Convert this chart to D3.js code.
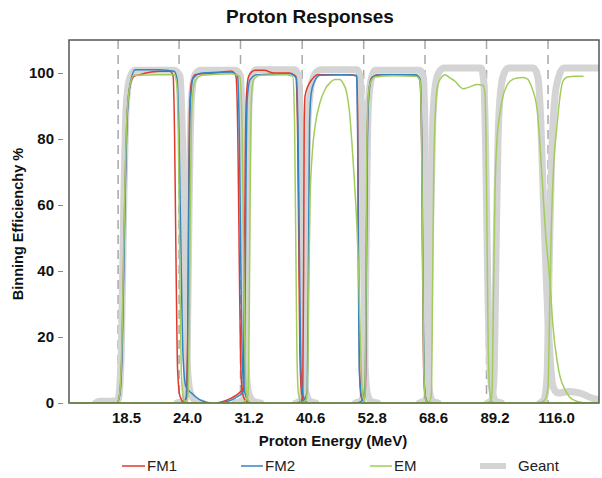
<!DOCTYPE html>
<html>
<head>
<meta charset="utf-8">
<script src="https://cdn.jsdelivr.net/npm/d3@7"></script>
<style>
  html, body { margin: 0; padding: 0; background: #fff; }
  svg { display: block; font-family: "Liberation Sans", Arial, sans-serif; }
</style>
</head>
<body>
<svg id="chart" width="602" height="478"></svg>
<script>
// ---------- DATA (energy in MeV, efficiency in %) ----------
const tickEnergies = [18.5, 24.0, 31.2, 40.6, 52.8, 68.6, 89.2, 116.0];
const tickLabels = ["18.5", "24.0", "31.2", "40.6", "52.8", "68.6", "89.2", "116.0"];
const yTicks = [0, 20, 40, 60, 80, 100];
const seriesNames = ["FM1", "FM2", "EM", "Geant"];

const fm1Bins = [
  [[17.0,0],[18.4,0],[18.6,2],[18.8,15],[19.0,55],[19.2,85],[19.45,96],[19.8,99],[20.3,99.5],[22.1,100.5],[23.1,100.5],[23.4,99],[23.55,80],[23.7,40],[23.85,10],[24.1,2],[24.6,0],[26.2,0]],
  [[24.1,0],[24.7,1],[24.9,20],[25.0,60],[25.1,88],[25.3,97],[25.7,99.5],[28.0,100],[30.0,100.5],[30.6,99],[30.85,80],[31.05,40],[31.2,15],[31.4,4],[31.8,1],[32.5,0]],
  [[28.2,0],[30.0,1.5],[31.0,3],[31.55,4.5],[31.7,30],[31.85,75],[32.0,93],[32.3,99],[33.2,100.8],[34.5,100.8],[36.0,100],[38.5,100],[39.5,99],[39.8,85],[40.0,50],[40.2,15],[40.5,3],[41.0,0]],
  [[39.5,0],[40.4,0.5],[40.7,3],[40.85,40],[40.95,85],[41.1,93],[41.6,96],[42.3,98],[43.4,99.5],[46.0,99.5],[50.0,99.5],[51.3,99],[51.5,80],[51.7,40],[51.9,10],[52.2,2],[53.0,0]],
  [[51.5,0],[52.8,0.5],[53.2,5],[53.4,40],[53.6,80],[54.0,95],[54.6,98.5],[56.0,99.5],[60.0,99.5],[66.0,99.3],[67.1,98],[67.6,80],[67.9,40],[68.2,10],[68.7,2],[69.5,0]]
];

const fm2Bins = [
  [[17.0,0],[18.4,0],[18.65,3],[18.85,20],[19.05,60],[19.25,88],[19.5,97],[19.9,101],[22.0,101],[23.5,100.5],[23.8,98],[24.0,80],[24.2,45],[24.4,15],[24.7,5],[25.3,3],[26.2,1],[27.4,0]],
  [[24.3,0],[24.8,2],[24.95,30],[25.05,70],[25.2,92],[25.5,98.5],[26.5,100],[30.0,100.3],[30.8,99],[31.05,80],[31.25,40],[31.45,12],[31.8,3],[32.5,0]],
  [[28.5,0],[30.5,1.5],[31.6,3.5],[31.8,25],[31.95,70],[32.1,92],[32.5,98],[33.5,99.5],[38.5,99.8],[39.6,98.5],[39.9,80],[40.15,40],[40.4,10],[40.8,2],[41.5,0]],
  [[40.0,0],[41.0,1],[41.5,4],[41.7,40],[41.9,85],[42.2,94],[42.8,97.5],[43.8,99.3],[48.0,99.5],[51.2,99.3],[51.45,80],[51.6,40],[51.8,10],[52.3,2],[53.0,0]],
  [[51.5,0],[52.6,1],[53.2,8],[53.4,45],[53.7,85],[54.1,95],[54.8,98.8],[57.0,99.5],[66.0,99.5],[67.2,98],[67.7,75],[68.0,35],[68.3,8],[68.8,1],[69.5,0]]
];

const emBins = [
  [[15.0,0],[18.4,0],[18.6,2],[18.8,18],[19.0,58],[19.2,86],[19.45,96],[19.8,99.3],[22.0,99.5],[23.5,99.5],[23.75,97],[23.95,75],[24.1,35],[24.25,8],[24.5,1],[25.0,0]],
  [[24.0,0],[24.9,0.5],[25.05,20],[25.2,65],[25.35,90],[25.7,97.5],[26.5,99.3],[30.0,99.8],[31.1,99],[31.4,85],[31.6,50],[31.8,15],[32.0,3],[32.4,0]],
  [[31.5,0],[32.2,2],[32.4,30],[32.55,75],[32.7,93],[33.0,98],[34.0,99.3],[38.0,99.5],[39.0,99],[39.3,85],[39.5,50],[39.7,15],[39.95,3],[40.4,0]],
  [[40.5,0],[41.3,1],[41.6,10],[41.8,40],[42.0,62],[42.4,76],[43.0,85],[43.8,91],[44.75,95],[45.7,97],[46.7,98],[47.7,98],[48.3,97],[49.1,94],[49.7,88],[50.2,79],[50.8,66],[51.3,53],[51.7,38],[52.0,22],[52.3,8],[52.6,2],[53.2,0]],
  [[52.0,0],[52.8,0.5],[53.1,3],[53.3,30],[53.5,75],[53.8,92],[54.3,97],[55.4,98.8],[60.0,99.2],[66.0,99],[67.2,97.5],[67.6,80],[67.9,45],[68.2,12],[68.6,2],[69.3,0]],
  [[68.5,0],[70.0,0.5],[70.5,3],[70.8,30],[71.2,70],[71.8,90],[72.5,96.5],[73.5,98.5],[74.7,99.5],[76.3,98.5],[78.0,97.5],[79.5,96],[80.7,95.2],[82.0,95.5],[83.1,95.8],[85.6,96.5],[87.9,96.2],[88.6,94],[89.0,80],[89.4,50],[89.8,20],[90.3,5],[90.9,1],[92.0,0]],
  [[89.0,0],[90.8,0.5],[91.3,3],[91.9,33],[92.5,64],[93.3,80],[94.5,88],[95.7,93],[97.2,96],[98.6,97.5],[101.6,98.5],[104.0,98.6],[106.0,98.3],[108.3,95.5],[110.7,89],[112.1,78],[113.5,64],[114.6,53],[116.0,43],[117.0,36],[118.5,23],[120.5,13],[122.1,8],[124.8,4],[129.0,1],[135.7,0],[144.2,0]],
  [[112.0,0],[114.5,1],[116.0,5],[116.7,25],[117.5,50],[118.5,68],[120.5,84],[122.1,93],[123.6,97.5],[126.0,98.8],[130.0,99],[134.7,99]]
];

const geantBins = [
  [[16.8,0],[17.1,0.5],[18.0,0.5],[18.5,1],[18.75,15],[18.95,60],[19.15,90],[19.45,98.5],[19.9,100.8],[23.5,100.8],[24.1,99],[24.35,80],[24.6,40],[24.85,12],[25.2,3],[25.8,0.5],[26.5,0]],
  [[23.8,0],[24.6,1],[24.85,15],[25.05,60],[25.3,92],[25.7,99.5],[26.3,100.8],[30.5,100.8],[31.2,99],[31.45,80],[31.7,40],[31.95,12],[32.3,3],[33.0,0.5],[34.0,0]],
  [[30.5,0],[31.6,1],[31.85,15],[32.1,60],[32.4,92],[32.8,99.5],[33.4,101],[39.3,101],[40.0,99],[40.3,80],[40.6,40],[40.9,12],[41.3,3],[42.0,0.5],[43.0,0]],
  [[39.5,0],[40.5,1],[40.9,10],[41.2,50],[41.6,85],[42.2,96],[43.0,100],[44.0,101],[51.3,101],[52.0,99],[52.4,80],[52.8,40],[53.1,12],[53.6,3],[54.5,0.5],[56.0,0]],
  [[51.0,0],[52.5,1],[53.0,12],[53.4,55],[53.8,88],[54.4,97.5],[55.4,100.8],[67.0,100.8],[68.1,99],[68.6,80],[69.0,40],[69.4,12],[70.0,3],[71.0,0.5],[72.5,0]],
  [[67.0,0],[68.8,1],[69.6,10],[70.2,50],[70.9,85],[71.8,97],[73.0,100.5],[74.5,101.5],[87.2,101.5],[88.2,97],[88.8,80],[89.6,40],[90.4,12],[91.5,3],[93.0,0.5],[95.0,0]],
  [[89.5,0],[91.3,1],[92.2,10],[92.9,45],[93.7,80],[94.8,95],[96.2,100],[98.0,101.5],[109.0,101.5],[111.0,99],[112.5,85],[113.8,60],[115.3,35],[116.9,15],[118.5,5],[121.0,3],[127.0,3.5],[133.0,3],[140.0,1.5],[144.2,1]],
  [[112.0,0],[114.0,1],[115.5,8],[116.5,40],[117.8,75],[119.5,93],[121.5,99],[124.0,101.5],[144.2,101.5]]
];

// ---------- LAYOUT ----------
const svg = d3.select("#chart");
const plot = { left: 69, right: 599, top: 40, bottom: 403 };
const colors = { FM1: "#e2392e", FM2: "#3384c4", EM: "#a2cc5c", Geant: "#d4d4d4" };
const fontFam = '"Liberation Sans", Arial, sans-serif';

const x = d3.scaleLog().domain([15.0, 144.2]).range([plot.left, plot.right]);
const y = d3.scaleLinear().domain([0, 110]).range([plot.bottom, plot.top]);

// title
svg.append("text")
  .attr("x", 310).attr("y", 23)
  .attr("text-anchor", "middle")
  .attr("font-size", 19).attr("font-weight", "bold")
  .attr("fill", "#111")
  .text("Proton Responses");

// dashed verticals at tick energies
svg.append("g").selectAll("line").data(tickEnergies).join("line")
  .attr("x1", d => x(d)).attr("x2", d => x(d))
  .attr("y1", plot.top).attr("y2", plot.bottom)
  .attr("stroke", "#a8a8a8").attr("stroke-width", 1.5)
  .attr("stroke-dasharray", "9,6");

const line = d3.line()
  .x(d => x(d[0])).y(d => y(d[1]))
  .curve(d3.curveMonotoneX);

svg.append("clipPath").attr("id", "clip")
  .append("rect").attr("x", plot.left).attr("y", plot.top - 5)
  .attr("width", plot.right - plot.left).attr("height", plot.bottom - plot.top + 5);

const lines = svg.append("g").attr("clip-path", "url(#clip)");
function drawBins(bins, color, width) {
  lines.append("g").selectAll("path").data(bins).join("path")
    .attr("d", line)
    .attr("fill", "none")
    .attr("stroke", color)
    .attr("stroke-width", width)
    .attr("stroke-linejoin", "round")
    .attr("stroke-linecap", "round");
}
drawBins(geantBins, colors.Geant, 7);
drawBins(fm1Bins, colors.FM1, 1.5);
drawBins(fm2Bins, colors.FM2, 1.5);
drawBins(emBins, colors.EM, 1.5);

// frame
svg.append("rect")
  .attr("x", plot.left).attr("y", plot.top)
  .attr("width", plot.right - plot.left).attr("height", plot.bottom - plot.top)
  .attr("fill", "none").attr("stroke", "#555").attr("stroke-width", 1.5);
svg.append("line")
  .attr("x1", plot.left).attr("x2", plot.right)
  .attr("y1", plot.bottom).attr("y2", plot.bottom)
  .attr("stroke", "#6f8f45").attr("stroke-width", 1.5);

// y axis
const yAxis = svg.append("g")
  .attr("transform", `translate(${plot.left - 6},0)`)
  .call(d3.axisLeft(y).tickValues(yTicks).tickSize(5).tickPadding(4));
yAxis.select(".domain").remove();
yAxis.selectAll(".tick line").attr("stroke", "#888");
yAxis.selectAll(".tick text")
  .attr("font-family", fontFam).attr("font-size", 15).attr("font-weight", "bold").attr("fill", "#111");

// x axis
const xAxis = svg.append("g")
  .attr("transform", `translate(0,${plot.bottom})`)
  .call(d3.axisBottom(x).tickValues(tickEnergies).tickFormat((d, i) => tickLabels[i]).tickSize(0).tickPadding(9));
xAxis.select(".domain").remove();
xAxis.selectAll(".tick text")
  .attr("dx", 8)
  .attr("font-family", fontFam).attr("font-size", 15).attr("font-weight", "bold").attr("fill", "#111");

// axis titles
svg.append("text")
  .attr("x", 333).attr("y", 446)
  .attr("text-anchor", "middle")
  .attr("font-size", 15).attr("font-weight", "bold").attr("fill", "#111")
  .text("Proton Energy (MeV)");

svg.append("text")
  .attr("transform", "translate(23,224) rotate(-90)")
  .attr("text-anchor", "middle")
  .attr("font-size", 14.5).attr("font-weight", "bold").attr("fill", "#111")
  .text("Binning Efficienchy %");

// legend
const legendItems = [
  { name: seriesNames[0], x: 122, len: 23, w: 1.5 },
  { name: seriesNames[1], x: 241, len: 22, w: 1.5 },
  { name: seriesNames[2], x: 370, len: 22, w: 1.5 },
  { name: seriesNames[3], x: 480, len: 26, w: 6 }
];
const lg = svg.append("g").selectAll("g").data(legendItems).join("g")
  .attr("transform", d => `translate(${d.x},466)`);
lg.append("line")
  .attr("x1", 0).attr("x2", d => d.len).attr("y1", 0).attr("y2", 0)
  .attr("stroke", d => colors[d.name]).attr("stroke-width", d => d.w);
lg.append("text")
  .attr("x", d => d.len + (d.name === "Geant" ? 12 : 2)).attr("y", 5)
  .attr("font-size", 15).attr("fill", "#222")
  .text(d => d.name);
</script>
</body>
</html>
